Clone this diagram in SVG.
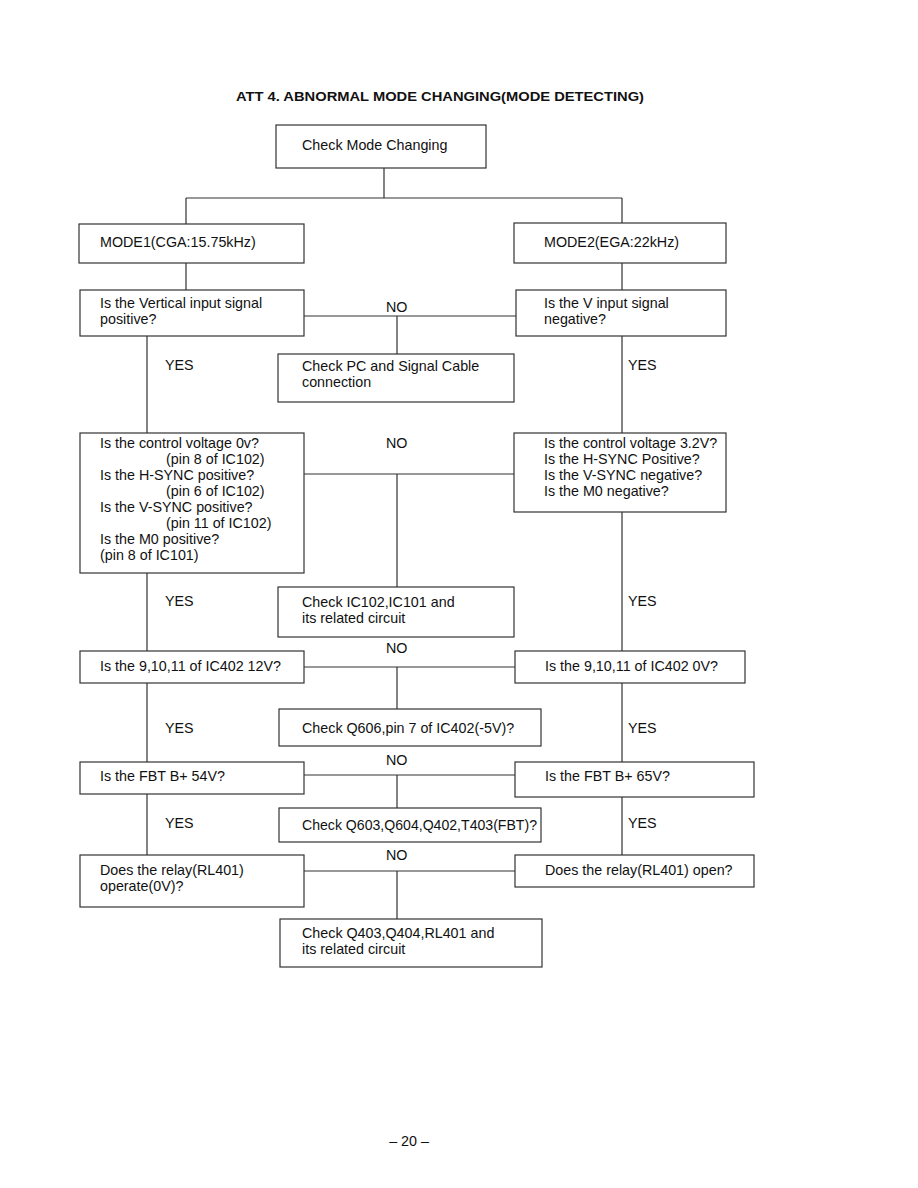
<svg xmlns="http://www.w3.org/2000/svg" width="918" height="1188" viewBox="0 0 918 1188">
<style>
.b{fill:#fff;stroke:#333;stroke-width:1.2}
.c{fill:none;stroke:#333;stroke-width:1.2}
text{font-family:"Liberation Sans",Arial,sans-serif;font-size:14.3px;fill:#111}
.t{font-weight:bold;font-size:13.5px}
</style>
<rect width="918" height="1188" fill="#fff"/>
<text class="t" x="236" y="101" textLength="408" lengthAdjust="spacingAndGlyphs">ATT 4. ABNORMAL MODE CHANGING(MODE DETECTING)</text>
<g id="connectors">
<path class="c" d="M384 168V198M186 198H622M186 198V224M622 198V223"/>
<path class="c" d="M186 263V290M622 263V290"/>
<path class="c" d="M304 316H516M397 316V354"/>
<path class="c" d="M147 336V433M622 336V433"/>
<path class="c" d="M304 474H514M397 474V587"/>
<path class="c" d="M147 573V651M622 512V651"/>
<path class="c" d="M304 667H515M397 667V709"/>
<path class="c" d="M147 683V762M622 683V762"/>
<path class="c" d="M304 775H515M397 775V808"/>
<path class="c" d="M147 794V855M622 797V855"/>
<path class="c" d="M304 871H515M397 871V919"/>
<text x="386" y="312">NO</text>
<text x="165" y="370">YES</text>
<text x="628" y="370">YES</text>
<text x="386" y="448">NO</text>
<text x="165" y="606">YES</text>
<text x="628" y="606">YES</text>
<text x="386" y="653">NO</text>
<text x="165" y="733">YES</text>
<text x="628" y="733">YES</text>
<text x="386" y="765">NO</text>
<text x="165" y="828">YES</text>
<text x="628" y="828">YES</text>
<text x="386" y="860">NO</text>
</g>
<g id="n-start"><rect class="b" x="276" y="125" width="210" height="43"/><text x="302" y="150">Check Mode Changing</text></g>
<g id="n-mode1"><rect class="b" x="79" y="224" width="225" height="39"/><text x="100" y="247">MODE1(CGA:15.75kHz)</text></g>
<g id="n-mode2"><rect class="b" x="514" y="223" width="212" height="40"/><text x="544" y="247">MODE2(EGA:22kHz)</text></g>
<g id="n-vpos"><rect class="b" x="80" y="290" width="224" height="46"/><text x="100" y="308">Is the Vertical input signal</text><text x="100" y="324">positive?</text></g>
<g id="n-vneg"><rect class="b" x="516" y="290" width="210" height="46"/><text x="544" y="308">Is the V input signal</text><text x="544" y="324">negative?</text></g>
<g id="n-cable"><rect class="b" x="278" y="354" width="236" height="48"/><text x="302" y="371">Check PC and Signal Cable</text><text x="302" y="387">connection</text></g>
<g id="n-ctl1"><rect class="b" x="80" y="433" width="224" height="140"/>
<text x="100" y="448">Is the control voltage 0v?</text>
<text x="166" y="464">(pin 8 of IC102)</text>
<text x="100" y="480">Is the H-SYNC positive?</text>
<text x="166" y="496">(pin 6 of IC102)</text>
<text x="100" y="512">Is the V-SYNC positive?</text>
<text x="166" y="528">(pin 11 of IC102)</text>
<text x="100" y="544">Is the M0 positive?</text>
<text x="100" y="560">(pin 8 of IC101)</text></g>
<g id="n-ctl2"><rect class="b" x="514" y="433" width="212" height="79"/>
<text x="544" y="448">Is the control voltage 3.2V?</text>
<text x="544" y="464">Is the H-SYNC Positive?</text>
<text x="544" y="480">Is the V-SYNC negative?</text>
<text x="544" y="496">Is the M0 negative?</text></g>
<g id="n-ic"><rect class="b" x="278" y="587" width="236" height="50"/><text x="302" y="607">Check IC102,IC101 and</text><text x="302" y="623">its related circuit</text></g>
<g id="n-ic402a"><rect class="b" x="80" y="651" width="224" height="32"/><text x="100" y="671">Is the 9,10,11 of IC402 12V?</text></g>
<g id="n-ic402b"><rect class="b" x="515" y="651" width="230" height="32"/><text x="545" y="671">Is the 9,10,11 of IC402 0V?</text></g>
<g id="n-q606"><rect class="b" x="279" y="709" width="262" height="37"/><text x="302" y="733">Check Q606,pin 7 of IC402(-5V)?</text></g>
<g id="n-fbt54"><rect class="b" x="80" y="762" width="224" height="32"/><text x="100" y="781">Is the FBT B+ 54V?</text></g>
<g id="n-fbt65"><rect class="b" x="515" y="762" width="239" height="35"/><text x="545" y="781">Is the FBT B+ 65V?</text></g>
<g id="n-q603"><rect class="b" x="279" y="808" width="262" height="34"/><text x="302" y="830" textLength="235" lengthAdjust="spacingAndGlyphs">Check Q603,Q604,Q402,T403(FBT)?</text></g>
<g id="n-relay1"><rect class="b" x="80" y="855" width="224" height="52"/><text x="100" y="875">Does the relay(RL401)</text><text x="100" y="891">operate(0V)?</text></g>
<g id="n-relay2"><rect class="b" x="515" y="855" width="239" height="32"/><text x="545" y="875">Does the relay(RL401) open?</text></g>
<g id="n-q403"><rect class="b" x="280" y="919" width="262" height="48"/><text x="302" y="938">Check Q403,Q404,RL401 and</text><text x="302" y="954">its related circuit</text></g>
<text x="409" y="1146" text-anchor="middle">– 20 –</text>
</svg>
